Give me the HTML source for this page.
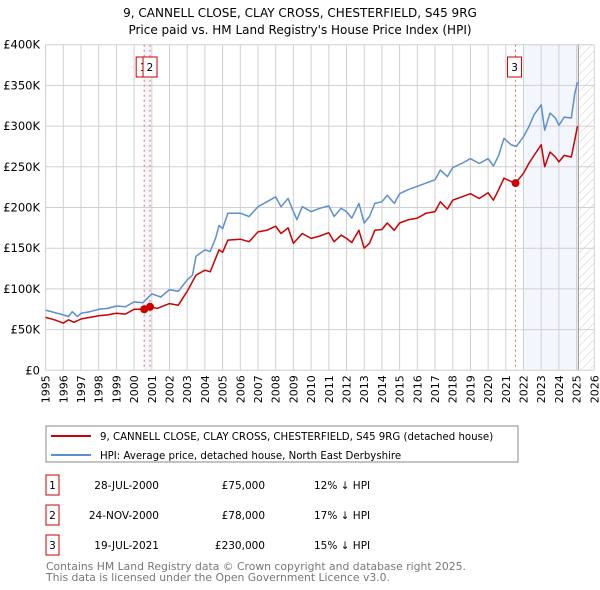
<!DOCTYPE html>
<html><head><meta charset="utf-8"><style>
body{margin:0;background:#fff;font-family:"DejaVu Sans","Liberation Sans",sans-serif;}
#wrap{position:relative;width:600px;height:590px;overflow:hidden;}
</style></head><body><div id="wrap">
<svg id="svg" width="600" height="590" xmlns="http://www.w3.org/2000/svg" style="font-family:'DejaVu Sans','Liberation Sans',sans-serif">
<defs><pattern id="hatch" width="6" height="6" patternUnits="userSpaceOnUse" patternTransform="rotate(45)"><line x1="0" y1="0" x2="0" y2="6" stroke="#ccc" stroke-width="1"/></pattern></defs>
<text x="300" y="17" text-anchor="middle" font-size="12" fill="#000">9, CANNELL CLOSE, CLAY CROSS, CHESTERFIELD, S45 9RG</text>
<text x="300" y="34" text-anchor="middle" font-size="12" fill="#000">Price paid vs. HM Land Registry's House Price Index (HPI)</text>
<g id="plot"></g>
<g>
<rect x="46" y="426" width="472" height="36" fill="#fff" stroke="#888"/>
<line x1="51" y1="436" x2="91" y2="436" stroke="#cc0000" stroke-width="2"/>
<text x="100" y="440" font-size="10.2">9, CANNELL CLOSE, CLAY CROSS, CHESTERFIELD, S45 9RG (detached house)</text>
<line x1="51" y1="455" x2="91" y2="455" stroke="#5b8fd0" stroke-width="2"/>
<text x="100" y="459" font-size="10.2">HPI: Average price, detached house, North East Derbyshire</text>
</g>
<g font-size="10.5">
<rect x="46" y="475" width="13" height="20" fill="#fff" stroke="#cc0000"/><text x="52.5" y="489" text-anchor="middle">1</text>
<text x="159" y="489" text-anchor="end">28-JUL-2000</text><text x="265" y="489" text-anchor="end">£75,000</text><text x="314" y="489">12% ↓ HPI</text>
<rect x="46" y="505" width="13" height="20" fill="#fff" stroke="#cc0000"/><text x="52.5" y="519" text-anchor="middle">2</text>
<text x="159" y="519" text-anchor="end">24-NOV-2000</text><text x="265" y="519" text-anchor="end">£78,000</text><text x="314" y="519">17% ↓ HPI</text>
<rect x="46" y="535" width="13" height="20" fill="#fff" stroke="#cc0000"/><text x="52.5" y="549" text-anchor="middle">3</text>
<text x="159" y="549" text-anchor="end">19-JUL-2021</text><text x="265" y="549" text-anchor="end">£230,000</text><text x="314" y="549">15% ↓ HPI</text>
</g>
<text x="46" y="570" font-size="10.8" fill="#777">Contains HM Land Registry data © Crown copyright and database right 2025.</text>
<text x="46" y="581" font-size="10.8" fill="#777">This data is licensed under the Open Government Licence v3.0.</text>
</svg></div>
<script>
const hpiYears=[1995,1995.5,1996,1996.3,1996.5,1996.8,1997,1997.5,1998,1998.5,1999,1999.5,2000,2000.5,2001,2001.5,2002,2002.5,2003,2003.3,2003.5,2004,2004.3,2004.6,2004.8,2005,2005.3,2006,2006.5,2007,2007.5,2008,2008.3,2008.7,2009,2009.2,2009.5,2010,2010.5,2011,2011.3,2011.7,2012,2012.3,2012.7,2013,2013.3,2013.6,2014,2014.3,2014.7,2015,2015.5,2016,2016.5,2017,2017.3,2017.7,2018,2018.5,2019,2019.5,2020,2020.3,2020.6,2020.9,2021.3,2021.6,2022,2022.3,2022.6,2023,2023.2,2023.5,2023.8,2024,2024.3,2024.7,2024.9,2025.05];
const hpiValues=[74,71,68,66,72,66,70,72,75,76,79,78,84,83,94,90,99,97,111,117,140,148,146,162,178,174,193,193,189,201,207,213,201,211,195,185,201,195,199,202,189,199,195,187,205,181,189,205,207,215,205,217,222,226,230,234,246,238,249,254,260,254,260,251,264,285,277,275,287,299,314,326,295,316,310,301,311,310,340,354];
const priceYears=[1995,1995.5,1996,1996.3,1996.6,1997,1997.5,1998,1998.5,1999,1999.5,2000,2000.57,2000.9,2001.3,2002,2002.5,2003,2003.5,2004,2004.3,2004.8,2005,2005.3,2006,2006.5,2007,2007.5,2008,2008.3,2008.7,2009,2009.5,2010,2010.5,2011,2011.3,2011.7,2012,2012.3,2012.7,2013,2013.3,2013.6,2014,2014.3,2014.7,2015,2015.5,2016,2016.5,2017,2017.3,2017.7,2018,2018.5,2019,2019.5,2020,2020.3,2020.6,2020.9,2021.3,2021.55,2022,2022.3,2022.6,2023,2023.2,2023.5,2023.8,2024,2024.3,2024.7,2024.9,2025.05];
const priceValues=[65,62,58,62,59,63,65,67,68,70,69,75,75,78,76,82,80,97,117,123,121,148,145,160,161,158,170,172,177,168,175,156,168,162,165,169,158,166,162,157,172,150,156,172,173,181,172,181,185,187,193,195,207,198,209,213,217,211,218,209,222,236,232,230,242,254,264,277,250,268,262,256,264,262,283,300];
const saleYears=[2000.57,2000.9,2021.55];
const saleValues=[75,78,230];
const saleLabels=["1","2","3"];
const yTicks=[0,50,100,150,200,250,300,350,400];
const yTickLabels=["£0","£50K","£100K","£150K","£200K","£250K","£300K","£350K","£400K"];
const xTicks=[];for(let y=1995;y<=2026;y++)xTicks.push(y);

const X0=45.6,X1=594.3,Y0=370.3,Y1=44.7;
const xs=y=>X0+(y-1995)*(X1-X0)/31;
const ys=v=>Y0-(v/400)*(Y0-Y1);
const NS="http://www.w3.org/2000/svg";
const plot=document.getElementById('plot');
function mk(tag,attrs,parent){const e=document.createElementNS(NS,tag);for(const k in attrs)e.setAttribute(k,attrs[k]);(parent||plot).appendChild(e);return e;}

let r=mk('rect',{x:xs(saleYears[0]),y:Y1,width:xs(saleYears[1])-xs(saleYears[0]),height:Y0-Y1,fill:'#f3f6fd'});


r=mk('rect',{x:xs(2022),y:Y1,width:xs(2025.1)-xs(2022),height:Y0-Y1,fill:'#f3f6fd'});


r=mk('rect',{x:xs(2025.1),y:Y1,width:X1-xs(2025.1),height:Y0-Y1,fill:'url(#hatch)'});



yTicks.forEach((v,i)=>{
 const l=mk('line',{x1:X0,x2:X1,y1:ys(v),y2:ys(v),stroke:'#d0d0d0','stroke-width':1});
 
 
 const t=mk('text',{x:40,y:ys(v)+4,'text-anchor':'end','font-size':11.5,fill:'#000'});
 t.textContent=yTickLabels[i];
 
 
});
xTicks.forEach(y=>{
 const l=mk('line',{x1:xs(y),x2:xs(y),y1:Y1,y2:Y0,stroke:'#d0d0d0','stroke-width':1});
 
 
 const t=mk('text',{x:0,y:0,'text-anchor':'end','font-size':11,fill:'#000',transform:`translate(${xs(y)+4},${Y0+5}) rotate(-90)`});
 t.textContent=String(y);
 
 
});
r=mk('line',{x1:xs(2025.1),x2:xs(2025.1),y1:Y1,y2:Y0,stroke:'#999','stroke-width':1});



saleYears.forEach(y=>{
 const l=mk('line',{x1:xs(y),x2:xs(y),y1:Y1,y2:Y0,stroke:'#e66','stroke-width':1,'stroke-dasharray':'2,3'});
 
 
});

function path(xa,va){return xa.map((y,i)=>(i?'L':'M')+xs(y).toFixed(1)+','+ys(va[i]).toFixed(1)).join('');}
let p=mk('path',{d:path(hpiYears,hpiValues),fill:'none',stroke:'#5b8fd0','stroke-width':1.5,'stroke-linejoin':'round'});


p=mk('path',{d:path(priceYears,priceValues),fill:'none',stroke:'#cc0000','stroke-width':1.5,'stroke-linejoin':'round'});



saleYears.forEach((y,i)=>{
 const c=mk('circle',{cx:xs(y),cy:ys(saleValues[i]),r:4,fill:'#cc0000'});
 
 
});
const boxX=[xs(saleYears[0])-8,xs(saleYears[1])-7,xs(saleYears[2])-8];
saleLabels.forEach((s,i)=>{
 const b=mk('rect',{x:boxX[i],y:57,width:(i==0?12:14),height:20,fill:'#fff',stroke:'#cc0000','stroke-width':1});
 
 
 const t=mk('text',{x:boxX[i]+7,y:71,'text-anchor':'middle','font-size':10.5});
 t.textContent=s;
 
 
});
</script>
</body></html>
